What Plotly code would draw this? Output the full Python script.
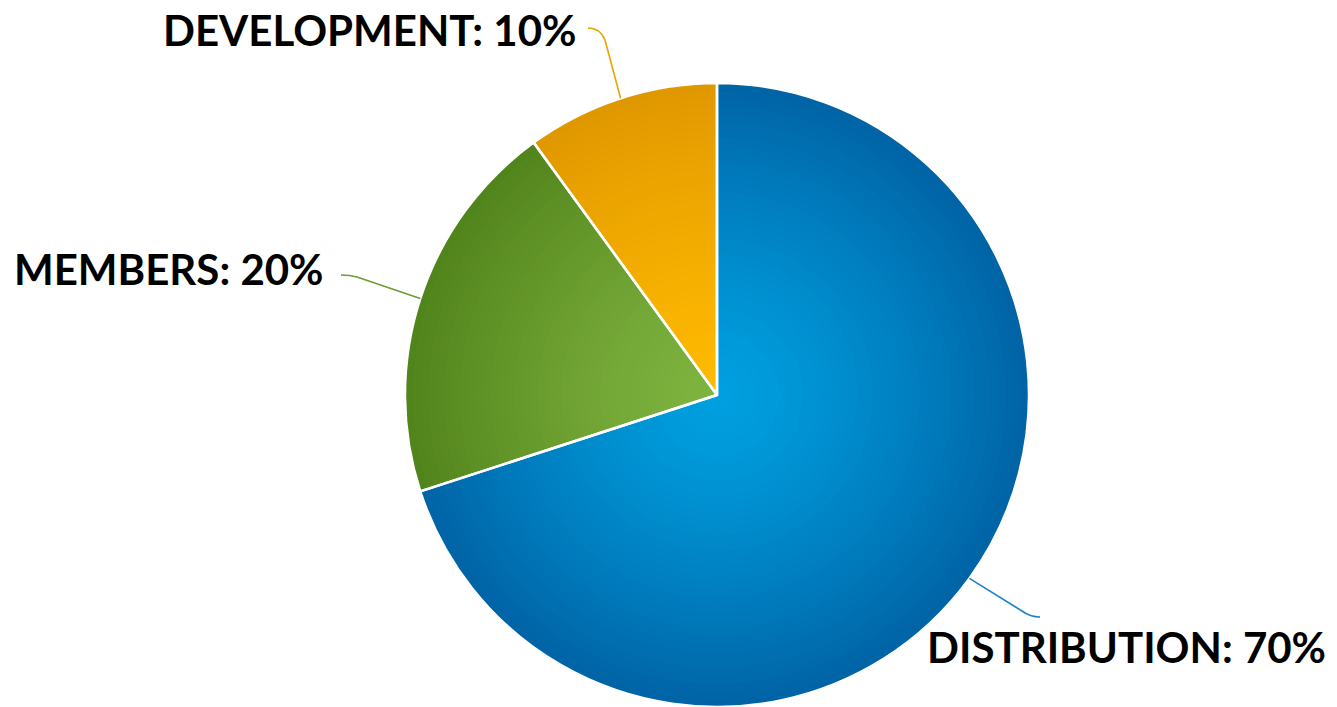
import plotly.graph_objects as go
import numpy as np

# ---- data ----
categories = ["DISTRIBUTION", "MEMBERS", "DEVELOPMENT"]
shares = [70, 20, 10]

# ---- style ----
W, H = 1337, 707
CX, CY, R = 717, 395, 312          # pie centre / radius in px
light = {"DISTRIBUTION": (0, 160, 224), "MEMBERS": (128, 180, 64), "DEVELOPMENT": (255, 186, 0)}
dark = {"DISTRIBUTION": (0, 100, 166), "MEMBERS": (82, 132, 28), "DEVELOPMENT": (224, 152, 0)}
line_col = {"DISTRIBUTION": "#1a86c8", "MEMBERS": "#6a9e30", "DEVELOPMENT": "#e8a400"}
FONT = "Lato"

def px2paper(x, y):
    return x / W, 1 - y / H

def mix(a, b, t):
    return "rgb(%d,%d,%d)" % tuple(round(a[i] + (b[i] - a[i]) * t) for i in range(3))

fig = go.Figure()

# concentric stacked pies (largest/darkest first) to imitate the radial gradient
steps = 40
for k in range(steps):
    r = R * (1 - k / steps)
    t = (r / R) ** 1.3
    cols = [mix(light[c], dark[c], t) for c in categories]
    x0, y1 = px2paper(CX - r, CY - r)
    x1, y0 = px2paper(CX + r, CY + r)
    fig.add_trace(go.Pie(
        labels=categories, values=shares, sort=False, direction="clockwise", rotation=0,
        marker=dict(colors=cols, line=dict(width=0)),
        textinfo="none", hoverinfo="skip", showlegend=False,
        domain=dict(x=[x0, x1], y=[y0, y1]),
    ))

# top transparent pie for the white slice separators
x0, y1 = px2paper(CX - R, CY - R)
x1, y0 = px2paper(CX + R, CY + R)
fig.add_trace(go.Pie(
    labels=categories, values=shares, sort=False, direction="clockwise", rotation=0,
    marker=dict(colors=["rgba(0,0,0,0)"] * 3, line=dict(color="white", width=2.5)),
    textinfo="none", hovertemplate="%{label}: %{percent}<extra></extra>", showlegend=False,
    domain=dict(x=[x0, x1], y=[y0, y1]),
))

# label placement (px): anchor point, xanchor, leader elbow, control, end
label_layout = {
    "DEVELOPMENT": dict(pos=(579, 30), xanchor="right", elbow=(605, 40), ctrl=(600, 28), end=(588, 28)),
    "MEMBERS": dict(pos=(326, 269), xanchor="right", elbow=(357, 277), ctrl=(350, 275), end=(341, 275)),
    "DISTRIBUTION": dict(pos=(925, 647), xanchor="left", elbow=(1022, 611), ctrl=(1030, 617), end=(1040, 617)),
}

total = sum(shares)
cum = 0
for cat, v in zip(categories, shares):
    mid = (cum + v / 2) / total * 2 * np.pi
    cum += v
    sx, sy = CX + R * np.sin(mid), CY - R * np.cos(mid)
    L = label_layout[cat]
    pts = [px2paper(sx, sy), px2paper(*L["elbow"]), px2paper(*L["ctrl"]), px2paper(*L["end"])]
    path = "M %f,%f L %f,%f Q %f,%f %f,%f" % (pts[0] + pts[1] + pts[2] + pts[3])
    fig.add_shape(type="path", path=path, xref="paper", yref="paper",
                  line=dict(color=line_col[cat], width=1.6))
    ax, ay = px2paper(*L["pos"])
    fig.add_annotation(x=ax, y=ay, xref="paper", yref="paper", xanchor=L["xanchor"], yanchor="middle",
                       text="<b>%s: %d%%</b>" % (cat, round(v / total * 100)), showarrow=False,
                       font=dict(family=FONT, size=42, color="black"))

fig.update_layout(width=W, height=H, margin=dict(l=0, r=0, t=0, b=0),
                  paper_bgcolor="white", plot_bgcolor="white")
fig.write_html("out.html")
